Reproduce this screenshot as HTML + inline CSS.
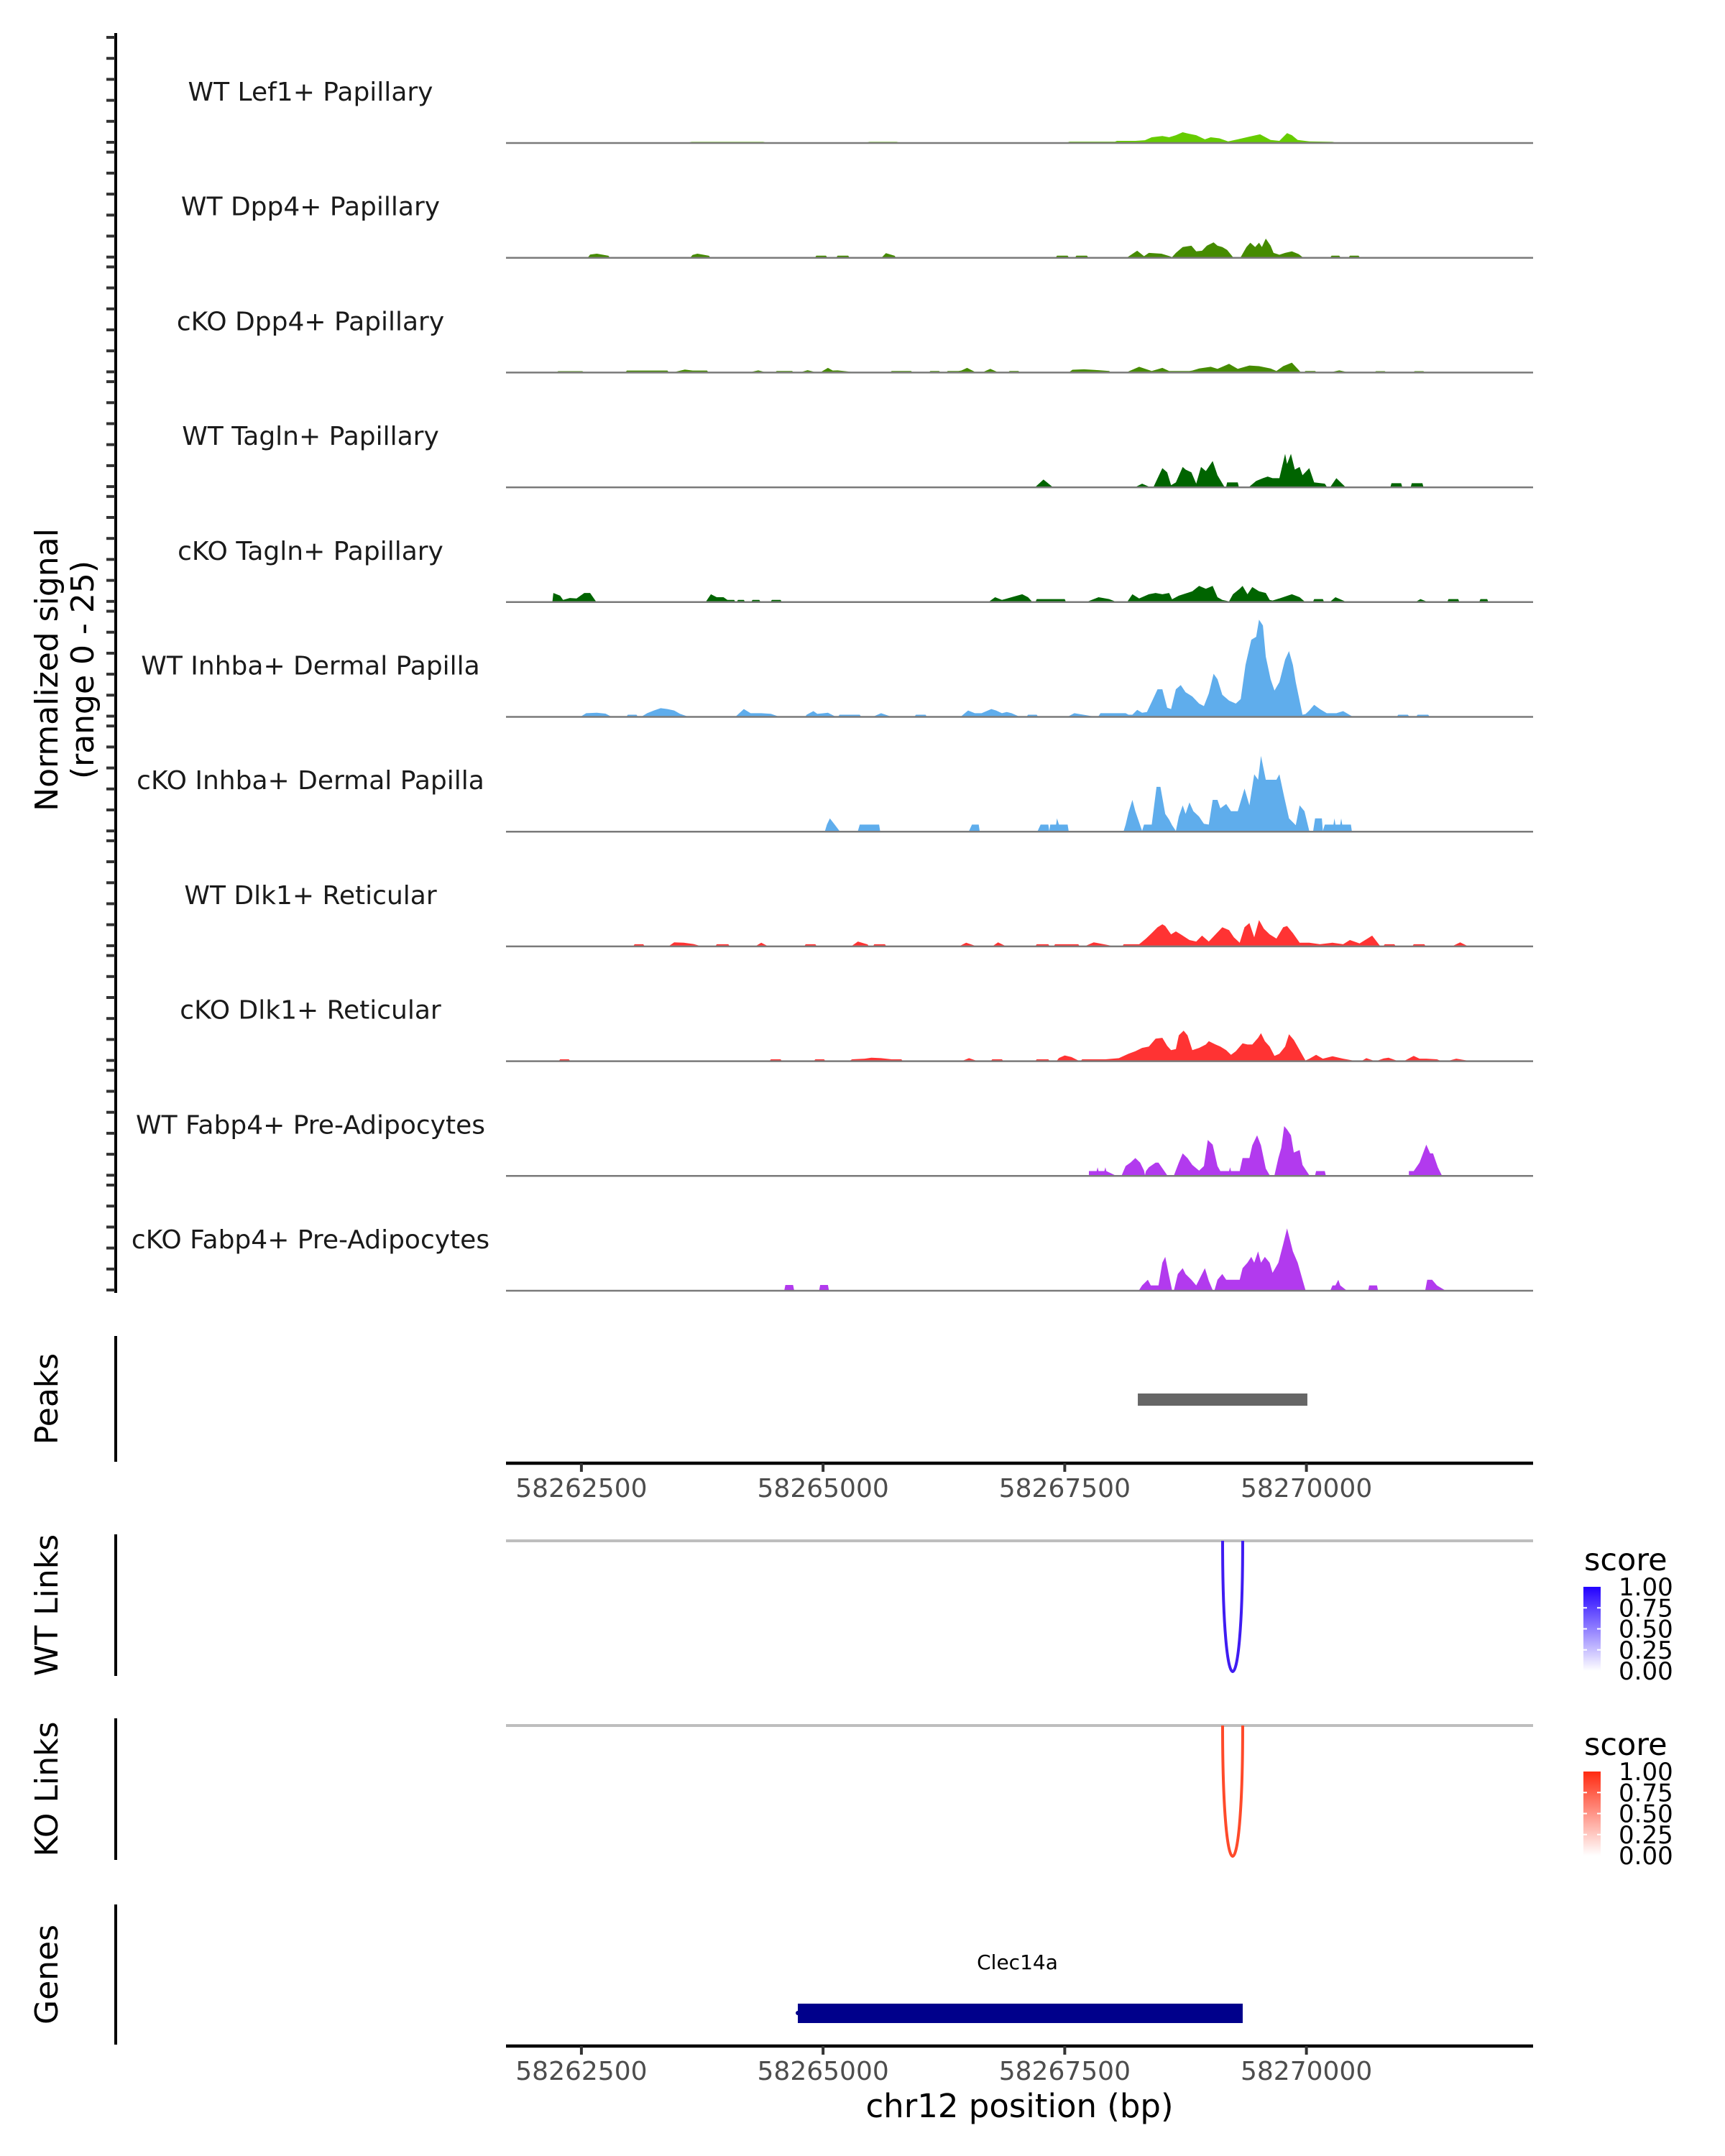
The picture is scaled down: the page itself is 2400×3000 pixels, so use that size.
<!DOCTYPE html>
<html>
<head>
<meta charset="utf-8">
<style>
html,body{margin:0;padding:0;background:#fff;}
svg{display:block;font-family:"DejaVu Sans","Liberation Sans",sans-serif;}
</style>
</head>
<body>
<svg id="chart" width="2400" height="3000" viewBox="0 0 2400 3000" xmlns="http://www.w3.org/2000/svg">
<defs>
<linearGradient id="gradWT" x1="0" y1="1" x2="0" y2="0">
<stop offset="0" stop-color="#ffffff"/><stop offset="1" stop-color="#2200ff"/>
</linearGradient>
<linearGradient id="gradKO" x1="0" y1="1" x2="0" y2="0">
<stop offset="0" stop-color="#ffffff"/><stop offset="1" stop-color="#ff2a10"/>
</linearGradient>
</defs>
<g id="layer"></g>
</svg>
<script>
// ---------------- data ----------------
const regionOffsetKb = 58260;
const xDomainKb = [58261.72, 58272.345];
const xTicksBp = [58262500, 58265000, 58267500, 58270000];
const signalTicks = [0, 5, 10, 15, 20, 25];
const signalMax = 25;
const trackNames = ["WT Lef1+ Papillary","WT Dpp4+ Papillary","cKO Dpp4+ Papillary","WT Tagln+ Papillary","cKO Tagln+ Papillary","WT Inhba+ Dermal Papilla","cKO Inhba+ Dermal Papilla","WT Dlk1+ Reticular","cKO Dlk1+ Reticular","WT Fabp4+ Pre-Adipocytes","cKO Fabp4+ Pre-Adipocytes"];
const trackColors = ["#66cc00","#458b00","#458b00","#006400","#006400","#5fadec","#5fadec","#ff3333","#ff3333","#b23aee","#b23aee"];
// signal points: [position kb relative to regionOffsetKb, normalized signal]
const sigWTLef1 = [[3.62,0],[3.64,0.1],[4.38,0.1],[4.40,0],[5.46,0],[5.48,0.1],[5.76,0.1],[5.78,0],[7.53,0],[7.55,0.15],[8.02,0.15],[8.04,0.35],[8.23,0.35],[8.33,0.5],[8.40,1.2],[8.51,1.5],[8.58,1.2],[8.65,1.7],[8.72,2.4],[8.79,2.0],[8.86,1.7],[8.95,0.7],[9.01,1.2],[9.10,0.95],[9.19,0.2],[9.29,0.7],[9.41,1.35],[9.52,1.9],[9.63,0.55],[9.72,0.35],[9.80,2.2],[9.85,1.7],[9.91,0.55],[10.03,0.2],[10.27,0.1],[10.29,0]];
const sigWTDpp4 = [[2.57,0],[2.59,0.6],[2.66,0.8],[2.78,0.3],[2.79,0],[3.63,0],[3.65,0.5],[3.70,0.8],[3.82,0.3],[3.83,0],[4.92,0],[4.93,0.35],[5.03,0.35],[5.04,0],[5.14,0],[5.15,0.35],[5.26,0.35],[5.27,0],[5.61,0],[5.65,0.95],[5.74,0.3],[5.75,0],[7.41,0],[7.42,0.35],[7.53,0.35],[7.54,0],[7.61,0],[7.62,0.35],[7.73,0.35],[7.74,0],[8.15,0],[8.25,1.5],[8.32,0.2],[8.37,1.0],[8.50,0.8],[8.58,0.25],[8.61,0],[8.65,1.0],[8.72,2.4],[8.81,2.7],[8.86,1.35],[8.92,1.5],[8.97,2.7],[9.04,3.5],[9.08,2.7],[9.13,2.4],[9.18,1.7],[9.24,0],[9.32,0],[9.38,2.4],[9.42,3.4],[9.47,2.4],[9.51,3.4],[9.54,2.4],[9.58,4.4],[9.63,2.7],[9.66,1.0],[9.72,0.55],[9.78,1.0],[9.85,1.35],[9.92,0.7],[9.96,0],[10.25,0],[10.26,0.35],[10.34,0.35],[10.35,0],[10.44,0],[10.45,0.35],[10.54,0.35],[10.55,0]];
const sigKODpp4 = [[2.25,0],[2.26,0.15],[2.51,0.15],[2.52,0],[2.96,0],[2.97,0.3],[3.39,0.3],[3.40,0],[3.47,0],[3.57,0.55],[3.65,0.3],[3.80,0.3],[3.81,0],[4.26,0],[4.33,0.35],[4.39,0],[4.51,0],[4.52,0.2],[4.68,0.2],[4.69,0],[4.78,0],[4.84,0.4],[4.91,0],[4.98,0],[5.05,0.95],[5.10,0.3],[5.15,0.35],[5.29,0],[5.70,0],[5.71,0.2],[5.91,0.2],[5.92,0],[6.10,0],[6.11,0.2],[6.20,0.2],[6.21,0],[6.28,0],[6.29,0.2],[6.40,0.2],[6.43,0.3],[6.49,0.95],[6.57,0],[6.66,0],[6.73,0.7],[6.80,0],[6.92,0],[6.93,0.2],[7.02,0.2],[7.03,0],[7.55,0],[7.58,0.5],[7.70,0.6],[7.85,0.4],[7.96,0.2],[7.97,0],[8.15,0],[8.27,1.2],[8.40,0.2],[8.51,0.95],[8.58,0.2],[8.79,0.2],[8.82,0.3],[8.89,0.8],[9.01,1.2],[9.08,0.7],[9.20,1.9],[9.29,0.7],[9.41,1.5],[9.51,1.35],[9.63,0.8],[9.69,0.2],[9.76,1.35],[9.85,2.2],[9.93,0.2],[9.94,0],[9.98,0],[9.99,0.2],[10.09,0.2],[10.10,0],[10.27,0],[10.34,0.35],[10.41,0],[10.71,0],[10.72,0.15],[10.81,0.15],[10.82,0],[11.11,0],[11.12,0.15],[11.21,0.15],[11.22,0]];
const sigWTTagln = [[7.20,0],[7.28,1.7],[7.37,0],[8.24,0],[8.30,0.7],[8.37,0],[8.42,0],[8.51,4.4],[8.56,3.4],[8.60,0.35],[8.65,1.0],[8.72,4.7],[8.75,4.05],[8.81,3.4],[8.86,0.7],[8.91,4.7],[8.96,3.7],[9.03,6.1],[9.08,2.7],[9.15,0],[9.17,0],[9.18,1.0],[9.29,1.0],[9.30,0],[9.41,0],[9.48,1.35],[9.55,2.0],[9.60,2.4],[9.65,2.0],[9.72,2.0],[9.78,7.8],[9.80,5.4],[9.84,7.8],[9.88,4.05],[9.93,4.7],[9.96,2.7],[10.03,4.4],[10.08,1.0],[10.19,0.7],[10.21,0],[10.25,0],[10.31,2.0],[10.40,0],[10.87,0],[10.88,0.8],[10.98,0.8],[10.99,0],[11.08,0],[11.09,0.8],[11.20,0.8],[11.21,0]];
const sigKOTagln = [[2.20,0],[2.21,2.0],[2.28,1.35],[2.31,0.35],[2.38,0.8],[2.45,0.7],[2.53,2.0],[2.59,2.0],[2.65,0],[3.79,0],[3.84,1.7],[3.90,1.0],[3.97,1.0],[4.01,0.35],[4.08,0.35],[4.09,0],[4.11,0],[4.12,0.35],[4.18,0.35],[4.19,0],[4.26,0],[4.27,0.35],[4.34,0.35],[4.35,0],[4.46,0],[4.47,0.35],[4.56,0.35],[4.57,0],[6.72,0],[6.78,1.0],[6.85,0.35],[6.95,1.0],[7.06,1.7],[7.12,1.0],[7.16,0],[7.20,0],[7.21,0.55],[7.50,0.55],[7.51,0],[7.74,0],[7.85,1.0],[7.96,0.55],[8.02,0],[8.15,0],[8.20,1.7],[8.27,0.7],[8.37,1.7],[8.44,2.0],[8.51,1.7],[8.58,2.0],[8.61,0.5],[8.68,1.35],[8.82,2.4],[8.89,3.7],[8.96,3.0],[9.03,3.7],[9.08,1.0],[9.13,0.35],[9.20,0],[9.24,1.7],[9.31,3.0],[9.34,3.7],[9.39,1.7],[9.44,3.4],[9.51,2.4],[9.58,2.0],[9.62,0.35],[9.65,0.2],[9.72,0.7],[9.85,1.7],[9.93,1.0],[9.98,0],[10.07,0],[10.08,0.55],[10.17,0.55],[10.18,0],[10.25,0],[10.30,1.0],[10.40,0],[11.14,0],[11.18,0.55],[11.24,0],[11.46,0],[11.47,0.55],[11.57,0.55],[11.58,0],[11.79,0],[11.80,0.55],[11.87,0.55],[11.88,0]];
const sigWTInhba = [[2.50,0],[2.55,0.7],[2.66,0.8],[2.75,0.6],[2.80,0],[2.97,0],[2.98,0.35],[3.07,0.35],[3.08,0],[3.13,0],[3.18,0.7],[3.25,1.35],[3.32,1.9],[3.39,1.7],[3.46,1.35],[3.52,0.55],[3.59,0],[4.10,0],[4.18,1.7],[4.25,0.7],[4.36,0.7],[4.46,0.55],[4.53,0],[4.82,0],[4.83,0.35],[4.90,1.2],[4.94,0.55],[5.05,0.8],[5.12,0],[5.16,0],[5.17,0.35],[5.38,0.35],[5.39,0],[5.53,0],[5.60,0.7],[5.69,0],[5.95,0],[5.96,0.35],[6.06,0.35],[6.07,0],[6.43,0],[6.50,1.35],[6.57,0.7],[6.64,0.7],[6.74,1.7],[6.79,1.35],[6.85,0.7],[6.90,1.0],[6.95,0.7],[7.02,0],[7.11,0],[7.12,0.35],[7.21,0.35],[7.22,0],[7.54,0],[7.60,0.7],[7.78,0],[7.85,0],[7.87,0.7],[8.13,0.7],[8.16,0.35],[8.20,0.35],[8.25,1.5],[8.30,0.8],[8.35,1.0],[8.40,3.4],[8.46,6.4],[8.51,6.4],[8.56,2.0],[8.60,1.7],[8.65,6.4],[8.70,7.4],[8.75,5.7],[8.82,4.7],[8.89,3.0],[8.94,2.4],[8.99,5.4],[9.04,10.1],[9.08,8.8],[9.13,5.1],[9.20,3.7],[9.27,3.0],[9.32,4.05],[9.37,12.2],[9.43,18.2],[9.48,18.9],[9.51,23.0],[9.55,21.6],[9.58,14.2],[9.63,8.8],[9.67,6.1],[9.72,8.1],[9.78,13.5],[9.82,15.5],[9.86,12.2],[9.89,8.1],[9.96,0.35],[9.99,0.5],[10.03,1.35],[10.08,2.7],[10.14,1.7],[10.21,0.7],[10.31,0.7],[10.38,1.2],[10.47,0],[10.94,0],[10.95,0.35],[11.05,0.35],[11.06,0],[11.14,0],[11.15,0.35],[11.26,0.35],[11.27,0]];
const sigKOInhba = [[5.02,0],[5.04,1.5],[5.07,3.0],[5.12,1.5],[5.17,0],[5.36,0],[5.38,1.5],[5.58,1.5],[5.59,0],[6.51,0],[6.54,1.5],[6.61,1.5],[6.62,0],[7.22,0],[7.25,1.5],[7.33,1.5],[7.34,0],[7.35,1.5],[7.41,1.5],[7.42,3.0],[7.44,1.5],[7.53,1.5],[7.54,0],[8.11,0],[8.13,1.5],[8.16,4.4],[8.20,7.4],[8.23,4.7],[8.30,0],[8.32,1.5],[8.40,1.5],[8.45,10.5],[8.49,10.5],[8.54,4.05],[8.58,2.7],[8.61,1.35],[8.65,0],[8.68,3.4],[8.72,6.1],[8.75,4.05],[8.79,6.8],[8.83,4.7],[8.89,3.4],[8.94,1.7],[8.99,1.5],[9.03,7.4],[9.08,7.4],[9.11,5.4],[9.17,6.4],[9.22,4.7],[9.29,4.7],[9.36,10.1],[9.41,6.1],[9.46,13.5],[9.50,12.2],[9.53,17.9],[9.58,12.2],[9.63,12.2],[9.69,12.2],[9.72,13.5],[9.77,8.1],[9.82,3.0],[9.89,1.35],[9.93,6.1],[9.98,4.7],[10.03,0],[10.07,0],[10.09,3.0],[10.16,3.0],[10.17,0],[10.19,1.5],[10.28,1.5],[10.29,3.0],[10.30,1.5],[10.35,1.5],[10.36,3.0],[10.37,1.5],[10.46,1.5],[10.47,0]];
const sigWTDlk1 = [[3.04,0],[3.05,0.35],[3.14,0.35],[3.15,0],[3.41,0],[3.46,0.8],[3.56,0.7],[3.66,0.4],[3.72,0],[3.89,0],[3.90,0.35],[4.02,0.35],[4.03,0],[4.31,0],[4.36,0.7],[4.42,0],[4.81,0],[4.82,0.35],[4.92,0.35],[4.93,0],[5.30,0],[5.36,1.0],[5.46,0.3],[5.47,0],[5.52,0],[5.53,0.35],[5.64,0.35],[5.65,0],[6.42,0],[6.48,0.7],[6.57,0],[6.76,0],[6.81,0.8],[6.88,0],[7.20,0],[7.21,0.35],[7.33,0.35],[7.34,0],[7.39,0],[7.40,0.35],[7.64,0.35],[7.65,0],[7.72,0],[7.80,0.8],[7.98,0],[8.10,0],[8.11,0.35],[8.20,0.35],[8.27,0.35],[8.34,1.7],[8.40,3.0],[8.46,4.4],[8.51,5.1],[8.54,4.7],[8.60,2.7],[8.65,3.4],[8.70,2.7],[8.79,1.35],[8.86,1.0],[8.92,2.4],[8.99,1.0],[9.06,2.7],[9.13,4.4],[9.20,3.7],[9.25,2.0],[9.31,0.7],[9.36,4.4],[9.41,5.4],[9.46,2.0],[9.51,6.1],[9.56,4.05],[9.62,2.7],[9.69,1.7],[9.76,4.4],[9.80,4.7],[9.86,3.0],[9.93,0.7],[10.03,0.7],[10.14,0.35],[10.27,0.7],[10.38,0.35],[10.45,1.35],[10.55,0.55],[10.68,2.4],[10.76,0],[10.80,0],[10.81,0.35],[10.91,0.35],[10.92,0],[11.10,0],[11.11,0.35],[11.22,0.35],[11.23,0],[11.52,0],[11.59,0.8],[11.66,0]];
const sigKODlk1 = [[2.27,0],[2.28,0.27],[2.37,0.27],[2.38,0],[4.45,0],[4.46,0.27],[4.56,0.27],[4.57,0],[4.91,0],[4.92,0.27],[5.01,0.27],[5.02,0],[5.28,0],[5.30,0.27],[5.43,0.43],[5.50,0.65],[5.60,0.54],[5.71,0.27],[5.81,0.27],[5.82,0],[6.45,0],[6.51,0.54],[6.58,0],[6.74,0],[6.75,0.27],[6.85,0.27],[6.86,0],[7.20,0],[7.21,0.27],[7.33,0.27],[7.34,0],[7.42,0],[7.44,0.6],[7.50,1.2],[7.57,0.8],[7.64,0],[7.67,0],[7.68,0.27],[7.89,0.27],[7.92,0.27],[8.06,0.54],[8.16,1.6],[8.23,2.2],[8.30,3.0],[8.37,3.3],[8.44,5.2],[8.51,5.4],[8.56,3.5],[8.60,2.45],[8.65,2.7],[8.68,6.0],[8.73,7.1],[8.77,6.0],[8.82,2.45],[8.89,3.0],[8.96,3.8],[8.99,4.6],[9.06,3.8],[9.11,3.3],[9.17,2.45],[9.22,1.35],[9.27,2.2],[9.34,4.1],[9.39,3.8],[9.44,3.8],[9.50,5.4],[9.53,6.5],[9.57,4.6],[9.62,3.3],[9.67,1.1],[9.72,1.6],[9.78,3.3],[9.82,6.25],[9.87,4.9],[9.93,2.45],[9.99,0],[10.03,0.4],[10.10,1.35],[10.17,0.43],[10.27,1.0],[10.38,0.43],[10.48,0],[10.58,0],[10.62,0.54],[10.69,0],[10.74,0],[10.80,0.5],[10.85,0.65],[10.93,0],[11.02,0],[11.11,1.1],[11.17,0.43],[11.24,0.43],[11.35,0.27],[11.38,0],[11.48,0],[11.55,0.43],[11.66,0]];
const sigWTFabp4 = [[7.75,0],[7.75,1.0],[7.83,1.0],[7.84,1.9],[7.85,1.0],[7.91,1.0],[7.92,1.9],[7.93,1.0],[8.02,0],[8.09,0],[8.13,2.2],[8.18,3.0],[8.23,4.1],[8.28,3.0],[8.32,1.1],[8.33,0],[8.34,1.0],[8.37,1.9],[8.44,3.0],[8.47,3.0],[8.56,0],[8.63,0],[8.68,3.0],[8.72,5.2],[8.77,4.1],[8.82,2.45],[8.89,1.1],[8.94,2.2],[8.98,8.4],[9.03,7.3],[9.08,2.2],[9.11,1.0],[9.20,1.0],[9.21,1.9],[9.22,1.0],[9.31,1.0],[9.34,4.1],[9.41,4.1],[9.44,7.1],[9.49,9.5],[9.53,7.1],[9.58,1.6],[9.62,0],[9.67,0],[9.71,4.1],[9.74,6.5],[9.77,11.7],[9.80,10.9],[9.84,9.5],[9.87,5.4],[9.93,6.0],[9.96,2.45],[10.03,0],[10.09,0],[10.10,1.0],[10.19,1.0],[10.20,0],[11.06,0],[11.06,1.0],[11.11,1.0],[11.17,3.0],[11.24,7.3],[11.28,5.2],[11.31,5.2],[11.36,1.9],[11.40,0]];
const sigKOFabp4 = [[4.60,0],[4.61,1.2],[4.69,1.2],[4.70,0],[4.96,0],[4.97,1.2],[5.05,1.2],[5.06,0],[8.27,0],[8.30,1.1],[8.36,2.45],[8.39,1.1],[8.47,1.1],[8.51,6.5],[8.54,7.9],[8.58,3.3],[8.61,0],[8.63,0],[8.67,3.8],[8.72,5.2],[8.75,3.8],[8.81,2.45],[8.86,1.1],[8.89,2.45],[8.95,5.2],[8.99,2.2],[9.03,0],[9.05,0],[9.08,2.45],[9.13,3.8],[9.17,2.45],[9.24,2.45],[9.31,2.45],[9.34,5.2],[9.39,6.5],[9.43,7.9],[9.46,6.5],[9.50,9.2],[9.53,6.5],[9.57,7.9],[9.62,6.5],[9.65,4.1],[9.71,6.5],[9.76,10.9],[9.80,14.7],[9.86,9.2],[9.91,6.5],[9.96,2.45],[9.99,0],[10.25,0],[10.27,1.1],[10.30,1.1],[10.33,2.45],[10.35,1.1],[10.41,0],[10.64,0],[10.65,1.1],[10.73,1.1],[10.74,0],[11.23,0],[11.25,2.45],[11.30,2.45],[11.35,1.1],[11.43,0]];
const trackSignals = [sigWTLef1,sigWTDpp4,sigKODpp4,sigWTTagln,sigKOTagln,sigWTInhba,sigKOInhba,sigWTDlk1,sigKODlk1,sigWTFabp4,sigKOFabp4];
// peaks, links, genes (kb)
const peakStarts = [58268.256];
const peakEnds = [58270.01];
const wtLinkStarts = [58269.133];
const wtLinkEnds = [58269.341];
const wtLinkScores = [1.0];
const koLinkStarts = [58269.133];
const koLinkEnds = [58269.341];
const koLinkScores = [1.0];
const geneNames = ["Clec14a"];
const geneStarts = [58264.739];
const geneEnds = [58269.341];
const legendTicks = [0, 0.25, 0.5, 0.75, 1.0];

// ---------------- layout ----------------
const NS = "http://www.w3.org/2000/svg";
const layer = document.getElementById("layer");
const plotL = 704, plotR = 2133;
const trackBase0 = 198, trackStep = 159.7, trackHeight = 146;
function xScale(kb){ return plotL + (kb - xDomainKb[0]) / (xDomainKb[1] - xDomainKb[0]) * (plotR - plotL); }
function baseY(k){ return trackBase0 + trackStep * k; }
function yScale(k, v){ return baseY(k) - v / signalMax * trackHeight; }
function mk(tag, attrs, parent){
  const el = document.createElementNS(NS, tag);
  for (const a in attrs) el.setAttribute(a, attrs[a]);
  (parent || layer).appendChild(el);
  return el;
}
function txt(str, attrs, parent){ const t = mk("text", attrs, parent); t.textContent = str; return t; }

// y-axis title
const yTitle = txt("", {x:0,y:0,"font-size":44,fill:"#000","text-anchor":"middle",transform:"translate(91,932) rotate(-90)"});


const ts1 = mk("tspan", {x:0, dy:-11}, yTitle); ts1.textContent = "Normalized signal";
const ts2 = mk("tspan", {x:0, dy:50}, yTitle); ts2.textContent = "(range 0 - 25)";

// left axis for signal tracks
const sigAxis = mk("line", {x1:161,y1:46,x2:161,y2:baseY(10)+4,stroke:"#000","stroke-width":4});


for (let k = 0; k < trackNames.length; k++){
  for (const t of signalTicks){
    const tk = mk("line", {x1:148,x2:160,y1:yScale(k,t),y2:yScale(k,t),stroke:"#333","stroke-width":4});
    
    
  }
}

// signal tracks
for (let k = 0; k < trackNames.length; k++){
  const g = mk("g", {});
  
  
  const lab = txt(trackNames[k], {x:432,y:baseY(k)-58,"font-size":36,fill:"#1a1a1a","text-anchor":"middle"}, g);
  
  
  const pts = trackSignals[k];
  let d = "M" + xScale(regionOffsetKb + pts[0][0]).toFixed(1) + "," + baseY(k).toFixed(1);
  for (const p of pts) d += " L" + xScale(regionOffsetKb + p[0]).toFixed(1) + "," + yScale(k, p[1]).toFixed(1);
  d += " L" + xScale(regionOffsetKb + pts[pts.length-1][0]).toFixed(1) + "," + baseY(k).toFixed(1) + " Z";
  const area = mk("path", {d:d, fill:trackColors[k], stroke:"none"}, g);
  
  
  const bl = mk("line", {x1:plotL,x2:plotR,y1:baseY(k)+1,y2:baseY(k)+1,stroke:"#7a7a7a","stroke-width":2.5}, g);
  
  
}

// side panel labels and axis lines
const panels = [["Peaks",1859,2034,"peaks"],["WT Links",2135,2332,"wt-links"],["KO Links",2391,2588,"ko-links"],["Genes",2650,2845,"genes"]];
for (const p of panels){
  const ln = mk("line", {x1:161,x2:161,y1:p[1],y2:p[2],stroke:"#000","stroke-width":4});
  
  
  const cy = (p[1]+p[2])/2;
  const t = txt(p[0], {x:0,y:0,"font-size":44,fill:"#000","text-anchor":"middle",transform:"translate(80,"+cy+") rotate(-90)"});
  
  
}

// peaks
for (let i = 0; i < peakStarts.length; i++){
  const r = mk("rect", {x:xScale(peakStarts[i]),y:1939,width:xScale(peakEnds[i])-xScale(peakStarts[i]),height:17,fill:"#666"});
  
  
}

// x axes
function drawXAxis(y, nm){
  const ax = mk("line", {x1:plotL,x2:plotR,y1:y,y2:y,stroke:"#000","stroke-width":4.5});
  
  
  for (const b of xTicksBp){
    const x = xScale(b/1000);
    const tk = mk("line", {x1:x,x2:x,y1:y,y2:y+12,stroke:"#333","stroke-width":4});
    
    
    const tl = txt(String(b), {x:x,y:y+47,"font-size":36,fill:"#4d4d4d","text-anchor":"middle"});
    
    
  }
}
drawXAxis(2036, 'x-axis-peaks');

// links
function drawLinks(lineY, starts, ends, scores, color, nm){
  const gl = mk("line", {x1:plotL,x2:plotR,y1:lineY,y2:lineY,stroke:"#bebebe","stroke-width":4});
  
  
  for (let i = 0; i < starts.length; i++){
    const x1 = xScale(starts[i]), x2 = xScale(ends[i]);
    const depth = 182 * 1.333;
    const arc = mk("path", {d:"M"+x1+","+lineY+" C"+x1+","+(lineY+depth)+" "+x2+","+(lineY+depth)+" "+x2+","+lineY,fill:"none",stroke:color,"stroke-width":4,"stroke-opacity":scores[i]});
    
    
  }
}
drawLinks(2144, wtLinkStarts, wtLinkEnds, wtLinkScores, "#3f1cf2", 'wt-link');
drawLinks(2401, koLinkStarts, koLinkEnds, koLinkScores, "#ff4a2a", 'ko-link');

// legends
function drawLegend(top, grad, nm){
  const g = mk("g", {});
  
  
  const tt = txt("score", {x:2204,y:top+15,"font-size":43,fill:"#000"}, g);
  
  
  const barTop = top + 38, barH = 117;
  const bar = mk("rect", {x:2203,y:barTop,width:24,height:barH,fill:"url(#"+grad+")"}, g);
  
  
  for (const v of legendTicks){
    const y = barTop + barH - v*barH;
    if (v > 0 && v < 1){
      mk("line", {x1:2203,x2:2208,y1:y,y2:y,stroke:"#fff","stroke-width":2}, g);
      mk("line", {x1:2222,x2:2227,y1:y,y2:y,stroke:"#fff","stroke-width":2}, g);
    }
    const lt = txt(v.toFixed(2), {x:2252,y:y+12,"font-size":34,fill:"#000"}, g);
    
    
  }
}
drawLegend(2170, "gradWT", 'wt-links-legend');
drawLegend(2427, "gradKO", 'ko-links-legend');

// genes
for (let i = 0; i < geneNames.length; i++){
  const x1 = xScale(geneStarts[i]), x2 = xScale(geneEnds[i]);
  const gb = mk("rect", {x:x1,y:2788,width:x2-x1,height:27,fill:"#00008b"});
  
  
  const dot = mk("circle", {cx:x1,cy:2801,r:3,fill:"#00008b"});
  
  
  const gt = txt(geneNames[i], {x:(x1+x2)/2-4,y:2740,"font-size":28,fill:"#000","text-anchor":"middle"});
  
  
}
drawXAxis(2847, 'x-axis-genes');
const xt = txt("chr12 position (bp)", {x:(plotL+plotR)/2,y:2946,"font-size":45,fill:"#000","text-anchor":"middle"});


</script>
</body>
</html>
